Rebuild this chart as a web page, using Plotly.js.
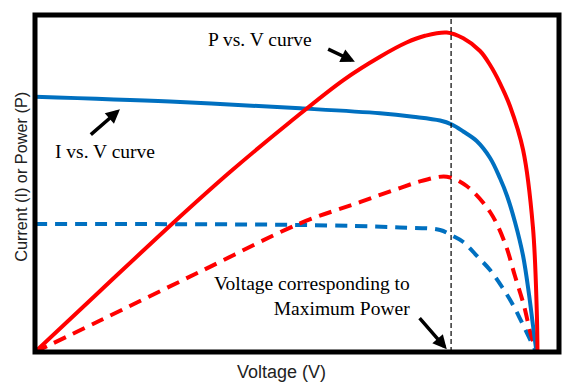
<!DOCTYPE html>
<html>
<head>
<meta charset="utf-8">
<script src="https://cdn.plot.ly/plotly-3.0.1.min.js"></script>
<style>html,body{margin:0;padding:0;background:#fff;}#chart{width:578px;height:389px;}</style>
</head>
<body>
<div id="chart"></div>
<script>
// Voltage samples (V) and values (relative units)
var ivVoltage   = [0, 5.64, 11.08, 14.42, 15.80, 16.93, 17.42, 17.90, 18.46, 19.02, 19.43, 19.73, 20.06, 20.40, 20.65, 20.81, 20.96];
var ivCurrent   = [75.76, 74.33, 72.31, 70.83, 69.82, 68.69, 67.51, 65.43, 62.61, 57.57, 51.63, 46.29, 38.58, 28.49, 16.91, 8.01, 0];

var pvVoltage   = [0, 2.72, 5.77, 8.15, 10.66, 12.89, 14.42, 15.53, 16.30, 17.21, 17.90, 18.60, 19.02, 19.43, 19.85, 20.40, 20.81, 20.97, 21.0];
var pvPower     = [0, 18.1, 38.28, 53.4, 68.25, 80.71, 87.63, 91.84, 93.83, 94.81, 93.09, 89.32, 85.16, 79.82, 73.0, 59.94, 37.09, 12.46, 0];

var ivLowVoltage = [0, 11.08, 15.25, 16.93, 17.42, 17.90, 18.51, 19.02, 19.52, 19.98, 20.44, 20.94];
var ivLowCurrent = [37.98, 37.69, 36.94, 36.20, 34.57, 32.64, 28.19, 24.33, 19.29, 13.95, 7.42, 0];

var pvLowVoltage = [0, 2.72, 6.90, 11.08, 13.44, 15.25, 16.23, 17.21, 18.04, 19.02, 19.64, 20.06, 20.44, 20.73, 20.98];
var pvLowPower   = [0, 9.35, 23.83, 38.19, 44.12, 48.66, 50.89, 52.02, 49.26, 41.54, 32.34, 22.55, 13.65, 5.04, 0];

var vmp = 17.39;

var BLUE = '#0070C0', RED = '#FF0000';
var serif = 'Liberation Serif, Times New Roman, serif';
var sans = 'Liberation Sans, Arial, sans-serif';

var traces = [
  {x: ivLowVoltage, y: ivLowCurrent, mode: 'lines', name: 'I-V (low)',
   line: {color: BLUE, width: 4, dash: '12px,8px', shape: 'spline', smoothing: 1}},
  {x: pvLowVoltage, y: pvLowPower, mode: 'lines', name: 'P-V (low)',
   line: {color: RED, width: 4, dash: '13px,8px', shape: 'spline', smoothing: 1}},
  {x: ivVoltage, y: ivCurrent, mode: 'lines', name: 'I-V',
   line: {color: BLUE, width: 4, shape: 'spline', smoothing: 1}},
  {x: pvVoltage, y: pvPower, mode: 'lines', name: 'P-V',
   line: {color: RED, width: 4, shape: 'spline', smoothing: 1}}
];

var layout = {
  width: 578, height: 389,
  margin: {l: 35, r: 19, t: 15, b: 37, pad: 0},
  paper_bgcolor: '#fff', plot_bgcolor: '#fff',
  showlegend: false,
  xaxis: {range: [0, 21.9], showgrid: false, zeroline: false, showticklabels: false, ticks: '', showline: false, fixedrange: true},
  yaxis: {range: [0, 100], showgrid: false, zeroline: false, showticklabels: false, ticks: '', showline: false, fixedrange: true},
  shapes: [
    {type: 'line', xref: 'x', yref: 'paper', x0: vmp, x1: vmp, y0: 0, y1: 1,
     line: {color: '#000', width: 1.2, dash: '5px,3px'}, layer: 'above'},
    {type: 'rect', xref: 'paper', yref: 'paper', x0: 0, x1: 1, y0: 0, y1: 1,
     line: {color: '#000', width: 5}, layer: 'above'}
  ],
  annotations: [
    {text: 'P vs. V curve', xref: 'x', yref: 'y', x: 7.15, y: 92.6, xanchor: 'left', yanchor: 'middle',
     showarrow: false, font: {family: serif, size: 19.5, color: '#000'}},
    {text: '', xref: 'x', yref: 'y', axref: 'x', ayref: 'y', x: 13.37, y: 86.1, ax: 12.19, ay: 90.1,
     showarrow: true, arrowhead: 2, arrowsize: 0.8, arrowwidth: 3.5, arrowcolor: '#000', standoff: 0},
    {text: 'I vs. V curve', xref: 'x', yref: 'y', x: 0.75, y: 59.6, xanchor: 'left', yanchor: 'middle',
     showarrow: false, font: {family: serif, size: 19.5, color: '#000'}},
    {text: '', xref: 'x', yref: 'y', axref: 'x', ayref: 'y', x: 3.55, y: 72.0, ax: 2.27, ay: 64.1,
     showarrow: true, arrowhead: 2, arrowsize: 0.8, arrowwidth: 3.5, arrowcolor: '#000', standoff: 0},
    {text: 'Voltage corresponding to<br>Maximum Power', xref: 'x', yref: 'y', x: 15.74, y: 16.5,
     xanchor: 'right', yanchor: 'middle', align: 'right',
     showarrow: false, font: {family: serif, size: 19.5, color: '#000'}},
    {text: '', xref: 'x', yref: 'y', axref: 'x', ayref: 'y', x: 17.21, y: 0.8, ax: 16.02, ay: 10.5,
     showarrow: true, arrowhead: 2, arrowsize: 0.8, arrowwidth: 3.5, arrowcolor: '#000', standoff: 0},
    {text: 'Voltage (V)', xref: 'paper', yref: 'paper', x: (281 - 35) / 524, y: -0.06,
     xanchor: 'center', yanchor: 'middle', showarrow: false, font: {family: sans, size: 18, color: '#222'}},
    {text: 'Current (I) or Power (P)', xref: 'paper', yref: 'paper', x: -0.027, y: (352 - 177) / 337,
     xanchor: 'center', yanchor: 'middle', textangle: -90, showarrow: false,
     font: {family: sans, size: 16.3, color: '#222'}}
  ]
};

Plotly.newPlot('chart', traces, layout, {staticPlot: true, displayModeBar: false});
</script>
</body>
</html>
